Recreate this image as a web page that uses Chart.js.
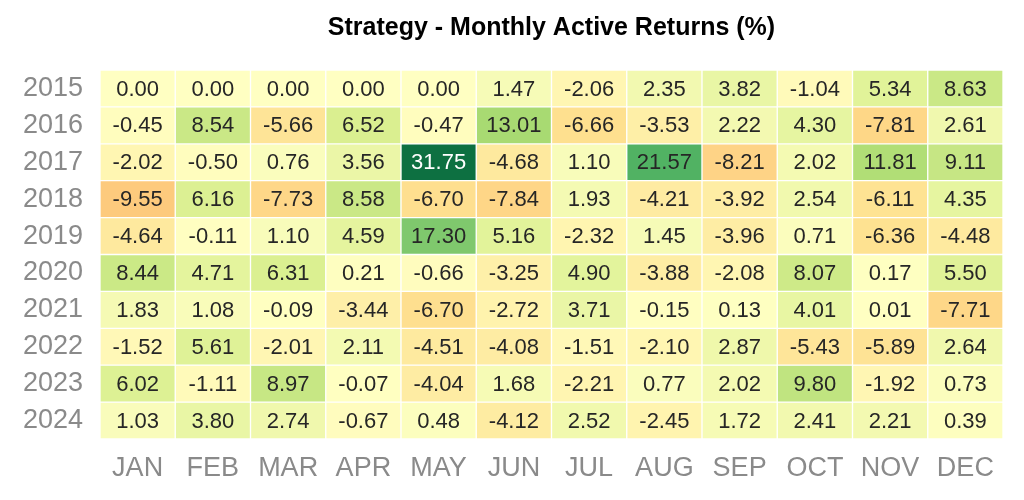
<!DOCTYPE html>
<html>
<head>
<meta charset="utf-8">
<script src="https://cdn.jsdelivr.net/npm/chart.js@4.4.1/dist/chart.umd.min.js"></script>
<style>
  html, body { margin: 0; padding: 0; background: #fff; }
  #wrap { width: 1024px; height: 500px; }
</style>
</head>
<body>
<div id="wrap"><canvas id="chart"></canvas></div>
<script>
const months = ["JAN", "FEB", "MAR", "APR", "MAY", "JUN", "JUL", "AUG", "SEP", "OCT", "NOV", "DEC"];
const years = ["2015", "2016", "2017", "2018", "2019", "2020", "2021", "2022", "2023", "2024"];

const r2015 = [0.00, 0.00, 0.00, 0.00, 0.00, 1.47, -2.06, 2.35, 3.82, -1.04, 5.34, 8.63];
const r2016 = [-0.45, 8.54, -5.66, 6.52, -0.47, 13.01, -6.66, -3.53, 2.22, 4.30, -7.81, 2.61];
const r2017 = [-2.02, -0.50, 0.76, 3.56, 31.75, -4.68, 1.10, 21.57, -8.21, 2.02, 11.81, 9.11];
const r2018 = [-9.55, 6.16, -7.73, 8.58, -6.70, -7.84, 1.93, -4.21, -3.92, 2.54, -6.11, 4.35];
const r2019 = [-4.64, -0.11, 1.10, 4.59, 17.30, 5.16, -2.32, 1.45, -3.96, 0.71, -6.36, -4.48];
const r2020 = [8.44, 4.71, 6.31, 0.21, -0.66, -3.25, 4.90, -3.88, -2.08, 8.07, 0.17, 5.50];
const r2021 = [1.83, 1.08, -0.09, -3.44, -6.70, -2.72, 3.71, -0.15, 0.13, 4.01, 0.01, -7.71];
const r2022 = [-1.52, 5.61, -2.01, 2.11, -4.51, -4.08, -1.51, -2.10, 2.87, -5.43, -5.89, 2.64];
const r2023 = [6.02, -1.11, 8.97, -0.07, -4.04, 1.68, -2.21, 0.77, 2.02, 9.80, -1.92, 0.73];
const r2024 = [1.03, 3.80, 2.74, -0.67, 0.48, -4.12, 2.52, -2.45, 1.72, 2.41, 2.21, 0.39];

const returns = [r2015, r2016, r2017, r2018, r2019, r2020, r2021, r2022, r2023, r2024];

// RdYlGn, symmetric around zero
const palette = ["#a50026", "#d73027", "#f46d43", "#fdae61", "#fee08b", "#ffffbf",
                 "#d9ef8b", "#a6d96a", "#66bd63", "#1a9850", "#006837"];
const vmax = Math.max(...returns.flat().map(Math.abs));

function hexToRgb(h) {
  return [parseInt(h.slice(1, 3), 16), parseInt(h.slice(3, 5), 16), parseInt(h.slice(5, 7), 16)];
}
function colorRgb(v) {
  let t = (v + vmax) / (2 * vmax);
  t = Math.min(1, Math.max(0, t));
  const p = t * (palette.length - 1);
  const i = Math.min(palette.length - 2, Math.floor(p));
  const f = p - i;
  const a = hexToRgb(palette[i]), b = hexToRgb(palette[i + 1]);
  return a.map((c, k) => Math.round(c + (b[k] - c) * f));
}
function cellColor(v) {
  const c = colorRgb(v);
  return `rgba(${c[0]},${c[1]},${c[2]},0.95)`;
}
function textColor(v) {
  const c = colorRgb(v);
  const lum = (0.299 * c[0] + 0.587 * c[1] + 0.114 * c[2]) / 255;
  return lum < 0.5 ? "#ffffff" : "#262626";
}

// each cell is one unit tall, stacked per month
const datasets = years.map((yr, i) => ({
  label: yr,
  data: months.map(() => 1),
  backgroundColor: returns[i].map(cellColor),
  borderColor: "rgba(255,255,255,0.5)",
  borderWidth: 1,
  borderSkipped: false,
  barPercentage: 1,
  categoryPercentage: 1
}));

const cellLabels = {
  id: "cellLabels",
  afterDatasetsDraw(chart) {
    const ctx = chart.ctx;
    ctx.save();
    ctx.font = "22px 'Liberation Sans', Arial, sans-serif";
    ctx.textAlign = "center";
    ctx.textBaseline = "middle";
    chart.data.datasets.forEach((ds, i) => {
      chart.getDatasetMeta(i).data.forEach((bar, j) => {
        const v = returns[i][j];
        ctx.fillStyle = textColor(v);
        ctx.fillText(v.toFixed(2), bar.x, (bar.y + bar.base) / 2 + 1);
      });
    });
    ctx.restore();
  }
};

new Chart(document.getElementById("chart"), {
  type: "bar",
  data: { labels: months, datasets: datasets },
  options: {
    responsive: true,
    maintainAspectRatio: false,
    animation: false,
    layout: { padding: { left: 0, right: 21, top: 0, bottom: 0 } },
    plugins: {
      legend: { display: false },
      tooltip: { enabled: false },
      title: {
        display: true,
        text: "Strategy - Monthly Active Returns (%)",
        fullSize: false,
        color: "#000",
        font: { family: "'Liberation Sans', Arial, sans-serif", size: 25, weight: "bold" },
        padding: { top: 13, bottom: 27 }
      }
    },
    scales: {
      x: {
        stacked: true,
        grid: { display: false, drawTicks: false },
        border: { display: false },
        ticks: {
          color: "#8a8a8a",
          padding: 13,
          font: { family: "'Liberation Sans', Arial, sans-serif", size: 27 }
        },
        afterFit(scale) { scale.height = 61; }
      },
      y: {
        stacked: true,
        reverse: true,
        min: 0,
        max: years.length,
        grid: { display: false, drawTicks: false },
        border: { display: false },
        afterBuildTicks(scale) {
          scale.ticks = years.map((yr, i) => ({ value: i + 0.5 }));
        },
        ticks: {
          color: "#8a8a8a",
          padding: 17,
          font: { family: "'Liberation Sans', Arial, sans-serif", size: 27 },
          callback: (value, index) => years[index]
        },
        afterFit(scale) { scale.width = 100; }
      }
    }
  },
  plugins: [cellLabels]
});
</script>
</body>
</html>
